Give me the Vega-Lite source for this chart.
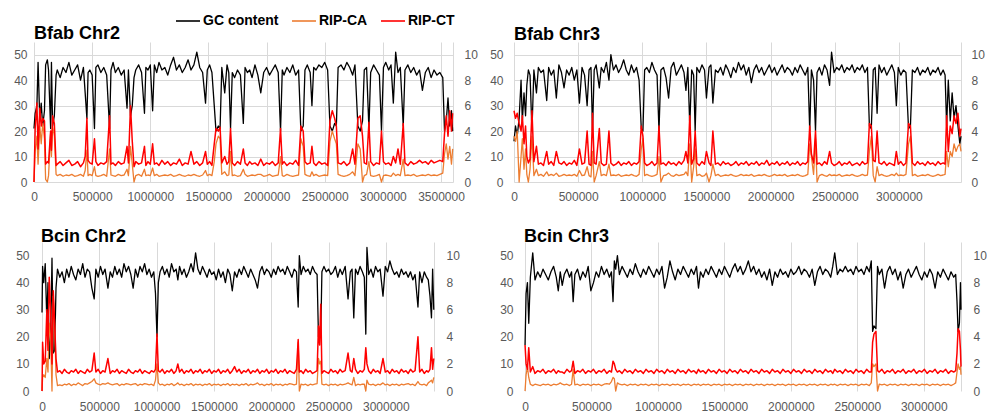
{
"$schema": "https://vega.github.io/schema/vega-lite/v6.json",
"background": "white",
"padding": {"left": 13, "top": 8, "right": 0, "bottom": 0},
"config": {
 "view": {"stroke": null},
 "font": "Liberation Sans",
 "axis": {"labelFont": "Liberation Sans", "labelFontSize": 12, "labelColor": "#595959", "ticks": false, "domain": false, "grid": false, "gridColor": "#d9d9d9", "gridWidth": 1, "domainColor": "#d9d9d9"},
 "title": {"anchor": "start", "frame": "group", "fontSize": 18, "fontWeight": "bold", "color": "#000000", "font": "Liberation Sans"},
 "line": {"strokeJoin": "round"}
},
"datasets": {
"tl": [{"x":0,"g":21,"a":0,"t":0},{"x":10,"g":27,"a":2.4,"t":4.2},{"x":25,"g":30,"a":3.6,"t":6.2},{"x":35,"g":47,"a":1.4,"t":2.6},{"x":50,"g":24,"a":4.4,"t":5.8},{"x":62,"g":31,"a":3,"t":4.4},{"x":75,"g":22,"a":4.6,"t":5},{"x":90,"g":28,"a":3.4,"t":4.8},{"x":100,"g":46,"a":0.2,"t":1.4},{"x":115,"g":48,"a":0,"t":1.6},{"x":125,"g":44,"a":0.5,"t":1.5},{"x":143,"g":21,"a":3.8,"t":4},{"x":150,"g":47,"a":2,"t":2.5},{"x":160,"g":22,"a":4.4,"t":5.2},{"x":175,"g":26,"a":3.6,"t":4.6},{"x":190,"g":42,"a":0.6,"t":1.3},{"x":200,"g":44,"a":0.5,"t":1.4},{"x":225,"g":41,"a":0.6,"t":1.6},{"x":250,"g":45,"a":0.45,"t":1.3},{"x":275,"g":43,"a":0.55,"t":1.5},{"x":300,"g":47,"a":0.5,"t":1.7},{"x":325,"g":42,"a":0.6,"t":1.3},{"x":350,"g":44,"a":0.45,"t":1.4},{"x":375,"g":46,"a":0.5,"t":1.6},{"x":400,"g":40,"a":0.6,"t":1.2},{"x":425,"g":45,"a":0.45,"t":1.5},{"x":440,"g":35,"a":0.9,"t":2},{"x":455,"g":25,"a":2.5,"t":5},{"x":465,"g":43,"a":0.5,"t":1.7},{"x":480,"g":44,"a":0.6,"t":1.5},{"x":500,"g":42,"a":0.5,"t":1.4},{"x":520,"g":21,"a":1.2,"t":3.4},{"x":532,"g":45,"a":0.5,"t":1.6},{"x":550,"g":46,"a":0.45,"t":1.3},{"x":575,"g":43,"a":0.5,"t":1.5},{"x":600,"g":45,"a":0.6,"t":1.4},{"x":625,"g":42,"a":0.45,"t":1.6},{"x":650,"g":21,"a":2.6,"t":5.2},{"x":662,"g":44,"a":0.55,"t":1.4},{"x":680,"g":47,"a":0.5,"t":1.5},{"x":700,"g":43,"a":0.45,"t":1.3},{"x":725,"g":45,"a":0.6,"t":1.6},{"x":750,"g":42,"a":0.5,"t":1.4},{"x":775,"g":44,"a":0.55,"t":1.5},{"x":800,"g":29,"a":1,"t":2.8},{"x":812,"g":44,"a":0.5,"t":1.5},{"x":830,"g":26,"a":2.8,"t":6},{"x":845,"g":30,"a":1.4,"t":3.2},{"x":860,"g":41,"a":0,"t":1.2},{"x":875,"g":44,"a":0.5,"t":1.6},{"x":900,"g":46,"a":0.6,"t":1.4},{"x":925,"g":43,"a":0.45,"t":1.5},{"x":950,"g":27,"a":1,"t":2.8},{"x":962,"g":45,"a":0.5,"t":1.3},{"x":980,"g":44,"a":0.55,"t":1.6},{"x":1000,"g":46,"a":0.5,"t":1.4},{"x":1020,"g":28,"a":1.1,"t":3},{"x":1035,"g":46,"a":0.5,"t":1.4},{"x":1055,"g":43,"a":0.6,"t":1.5},{"x":1075,"g":47,"a":0.45,"t":1.3},{"x":1100,"g":44,"a":0.5,"t":1.7},{"x":1125,"g":45,"a":0.55,"t":1.4},{"x":1150,"g":42,"a":0.5,"t":1.6},{"x":1175,"g":46,"a":0.6,"t":1.3},{"x":1200,"g":49,"a":0.45,"t":1.5},{"x":1225,"g":44,"a":0.5,"t":1.4},{"x":1250,"g":46,"a":0.6,"t":1.8},{"x":1275,"g":43,"a":0.5,"t":1.3},{"x":1300,"g":45,"a":0.45,"t":1.5},{"x":1325,"g":48,"a":0.55,"t":1.4},{"x":1350,"g":44,"a":0.5,"t":2.4},{"x":1375,"g":46,"a":0.6,"t":1.4},{"x":1400,"g":51,"a":0.5,"t":1.6},{"x":1425,"g":45,"a":0.45,"t":1.3},{"x":1450,"g":43,"a":0.55,"t":1.5},{"x":1475,"g":31,"a":0.9,"t":2.4},{"x":1490,"g":44,"a":0.5,"t":1.4},{"x":1510,"g":46,"a":0.6,"t":1.6},{"x":1530,"g":43,"a":0.5,"t":1.3},{"x":1550,"g":30,"a":1.6,"t":3},{"x":1565,"g":20,"a":3,"t":4.2},{"x":1585,"g":22,"a":3.6,"t":4},{"x":1600,"g":21,"a":3.4,"t":4.3},{"x":1615,"g":45,"a":0.6,"t":1.5},{"x":1640,"g":35,"a":0.8,"t":2},{"x":1660,"g":46,"a":0.5,"t":1.4},{"x":1675,"g":43,"a":0.55,"t":1.6},{"x":1690,"g":21,"a":2.4,"t":4.2},{"x":1705,"g":43,"a":0.5,"t":1.5},{"x":1725,"g":41,"a":0.55,"t":1.3},{"x":1750,"g":44,"a":0.45,"t":1.6},{"x":1775,"g":42,"a":0.5,"t":1.4},{"x":1800,"g":23,"a":1,"t":2.6},{"x":1815,"g":45,"a":0.6,"t":1.5},{"x":1835,"g":43,"a":0.45,"t":1.3},{"x":1855,"g":44,"a":0.5,"t":1.6},{"x":1875,"g":41,"a":0.55,"t":1.4},{"x":1900,"g":46,"a":0.5,"t":1.5},{"x":1925,"g":42,"a":0.6,"t":1.3},{"x":1950,"g":35,"a":0.6,"t":1.8},{"x":1975,"g":43,"a":0.45,"t":1.3},{"x":2000,"g":45,"a":0.5,"t":1.5},{"x":2025,"g":42,"a":0.6,"t":1.4},{"x":2050,"g":44,"a":0.45,"t":1.6},{"x":2075,"g":46,"a":0.5,"t":1.3},{"x":2100,"g":43,"a":0.55,"t":1.5},{"x":2120,"g":20,"a":2,"t":4.2},{"x":2135,"g":44,"a":0.5,"t":1.4},{"x":2150,"g":42,"a":0.45,"t":1.6},{"x":2175,"g":45,"a":0.6,"t":1.3},{"x":2200,"g":43,"a":0.5,"t":1.5},{"x":2225,"g":46,"a":0.45,"t":1.4},{"x":2250,"g":42,"a":0.5,"t":1.7},{"x":2275,"g":44,"a":0.55,"t":1.3},{"x":2295,"g":20,"a":3.4,"t":4.4},{"x":2315,"g":22,"a":2.8,"t":4},{"x":2330,"g":44,"a":0.6,"t":1.6},{"x":2350,"g":46,"a":0.5,"t":1.4},{"x":2375,"g":43,"a":0.45,"t":1.5},{"x":2390,"g":30,"a":0.8,"t":2.8},{"x":2405,"g":45,"a":0.5,"t":1.5},{"x":2425,"g":44,"a":0.6,"t":1.3},{"x":2450,"g":46,"a":0.45,"t":1.6},{"x":2475,"g":45,"a":0.5,"t":1.4},{"x":2500,"g":47,"a":0.55,"t":1.5},{"x":2525,"g":44,"a":0.5,"t":1.3},{"x":2545,"g":22,"a":3.2,"t":4.8},{"x":2565,"g":20,"a":4,"t":5.6},{"x":2585,"g":23,"a":3.4,"t":5},{"x":2600,"g":22,"a":3,"t":4.4},{"x":2615,"g":45,"a":0.6,"t":1.5},{"x":2640,"g":46,"a":0.5,"t":1.4},{"x":2665,"g":44,"a":0.45,"t":1.6},{"x":2690,"g":47,"a":0.5,"t":1.3},{"x":2715,"g":45,"a":0.6,"t":1.5},{"x":2740,"g":42,"a":0.8,"t":2.6},{"x":2760,"g":46,"a":0.5,"t":1.4},{"x":2785,"g":22,"a":3,"t":5},{"x":2805,"g":20,"a":2.6,"t":5.2},{"x":2825,"g":24,"a":0,"t":3.6},{"x":2840,"g":44,"a":0.5,"t":1.5},{"x":2860,"g":45,"a":0.6,"t":1.4},{"x":2880,"g":21,"a":1.6,"t":4.7},{"x":2895,"g":43,"a":0.5,"t":1.6},{"x":2920,"g":46,"a":0.45,"t":1.3},{"x":2945,"g":44,"a":0.5,"t":1.5},{"x":2970,"g":42,"a":0.6,"t":1.4},{"x":2988,"g":20,"a":0,"t":4},{"x":3005,"g":45,"a":0.5,"t":1.6},{"x":3025,"g":47,"a":0.55,"t":1.4},{"x":3050,"g":44,"a":0.5,"t":1.5},{"x":3070,"g":46,"a":0.45,"t":1.3},{"x":3090,"g":31,"a":0.7,"t":2},{"x":3110,"g":51,"a":0.5,"t":1.5},{"x":3130,"g":43,"a":0.6,"t":2.6},{"x":3150,"g":45,"a":0.5,"t":1.4},{"x":3175,"g":22,"a":1.8,"t":4.6},{"x":3190,"g":44,"a":0.5,"t":1.5},{"x":3215,"g":46,"a":0.55,"t":1.3},{"x":3240,"g":43,"a":0.5,"t":1.6},{"x":3265,"g":45,"a":0.6,"t":1.4},{"x":3290,"g":42,"a":0.45,"t":1.5},{"x":3315,"g":44,"a":0.5,"t":1.7},{"x":3340,"g":36,"a":0.55,"t":1.5},{"x":3365,"g":43,"a":0.5,"t":1.6},{"x":3390,"g":45,"a":0.6,"t":1.4},{"x":3415,"g":41,"a":0.5,"t":1.7},{"x":3440,"g":44,"a":0.55,"t":1.5},{"x":3465,"g":42,"a":0.5,"t":1.6},{"x":3490,"g":43,"a":0.6,"t":1.7},{"x":3515,"g":41,"a":0.7,"t":1.6},{"x":3530,"g":20,"a":2.2,"t":3.8},{"x":3545,"g":24,"a":3,"t":5.2},{"x":3560,"g":33,"a":1.8,"t":3.6},{"x":3575,"g":22,"a":2.8,"t":5.6},{"x":3590,"g":28,"a":1.4,"t":4},{"x":3600,"g":20,"a":2.6,"t":5.4}],
"tr": [{"x":0,"g":16,"a":3.6,"t":5.6},{"x":12,"g":22,"a":3.2,"t":5},{"x":25,"g":18,"a":4,"t":5.4},{"x":40,"g":25,"a":0,"t":4.6},{"x":55,"g":40,"a":2,"t":4},{"x":65,"g":24,"a":3.4,"t":5.2},{"x":78,"g":35,"a":1,"t":3},{"x":90,"g":26,"a":2.6,"t":4.4},{"x":100,"g":38,"a":0.6,"t":2},{"x":112,"g":44,"a":0,"t":1.5},{"x":125,"g":42,"a":1,"t":1.8},{"x":140,"g":20,"a":3.6,"t":5.6},{"x":155,"g":44,"a":0.5,"t":1.6},{"x":175,"g":35,"a":1,"t":2.8},{"x":190,"g":45,"a":0.5,"t":1.4},{"x":210,"g":43,"a":0.6,"t":1.5},{"x":230,"g":44,"a":0.45,"t":1.3},{"x":255,"g":32,"a":0.8,"t":2.4},{"x":270,"g":45,"a":0.5,"t":1.4},{"x":290,"g":42,"a":0.6,"t":1.6},{"x":310,"g":44,"a":0.5,"t":1.3},{"x":330,"g":33,"a":0.7,"t":2.4},{"x":350,"g":46,"a":0.45,"t":1.5},{"x":370,"g":43,"a":0.5,"t":1.4},{"x":390,"g":37,"a":0.6,"t":1.6},{"x":410,"g":44,"a":0.5,"t":1.3},{"x":430,"g":42,"a":0.55,"t":1.5},{"x":450,"g":45,"a":0.5,"t":1.4},{"x":470,"g":40,"a":0.6,"t":1.7},{"x":490,"g":44,"a":0.45,"t":1.3},{"x":510,"g":31,"a":0.9,"t":2.6},{"x":530,"g":45,"a":0.5,"t":1.4},{"x":550,"g":42,"a":0.55,"t":1.5},{"x":570,"g":30,"a":1.2,"t":4},{"x":585,"g":44,"a":0.5,"t":1.4},{"x":600,"g":45,"a":0.4,"t":1.3},{"x":612,"g":20,"a":2.4,"t":5.4},{"x":625,"g":44,"a":0,"t":1.5},{"x":640,"g":46,"a":0.5,"t":1.4},{"x":665,"g":37,"a":1.6,"t":4.2},{"x":680,"g":45,"a":0.5,"t":1.5},{"x":700,"g":43,"a":0.6,"t":1.3},{"x":720,"g":47,"a":0.5,"t":1.4},{"x":740,"g":40,"a":1.4,"t":4},{"x":755,"g":50,"a":0.5,"t":1.5},{"x":775,"g":44,"a":0.55,"t":1.3},{"x":795,"g":46,"a":0.5,"t":1.4},{"x":815,"g":43,"a":0.6,"t":1.6},{"x":835,"g":45,"a":0.45,"t":1.3},{"x":855,"g":48,"a":0.5,"t":1.5},{"x":875,"g":44,"a":0.55,"t":1.4},{"x":895,"g":42,"a":0.5,"t":1.6},{"x":915,"g":46,"a":0.6,"t":1.3},{"x":935,"g":43,"a":0.5,"t":1.5},{"x":955,"g":45,"a":0.45,"t":1.4},{"x":975,"g":40,"a":0.6,"t":1.6},{"x":992,"g":21,"a":2.6,"t":4.4},{"x":1005,"g":20,"a":3.4,"t":3.6},{"x":1018,"g":44,"a":0.5,"t":1.5},{"x":1035,"g":45,"a":0.6,"t":1.3},{"x":1055,"g":43,"a":0.5,"t":1.4},{"x":1075,"g":47,"a":0.45,"t":1.6},{"x":1095,"g":44,"a":0.5,"t":1.3},{"x":1115,"g":42,"a":0.6,"t":1.5},{"x":1130,"g":20,"a":2,"t":4.4},{"x":1145,"g":44,"a":0,"t":1.4},{"x":1165,"g":45,"a":0.5,"t":1.5},{"x":1185,"g":41,"a":0.55,"t":1.3},{"x":1205,"g":33,"a":0.7,"t":1.6},{"x":1225,"g":45,"a":0.5,"t":1.4},{"x":1245,"g":47,"a":0.45,"t":1.5},{"x":1265,"g":42,"a":0.6,"t":1.3},{"x":1285,"g":44,"a":0.5,"t":1.6},{"x":1305,"g":46,"a":0.55,"t":1.4},{"x":1325,"g":43,"a":0.6,"t":1.7},{"x":1340,"g":36,"a":0.8,"t":2.4},{"x":1355,"g":45,"a":0.5,"t":1.5},{"x":1370,"g":22,"a":3,"t":5.2},{"x":1385,"g":44,"a":0,"t":1.4},{"x":1400,"g":42,"a":1.2,"t":1.8},{"x":1412,"g":20,"a":2.6,"t":4},{"x":1425,"g":45,"a":0.5,"t":1.5},{"x":1445,"g":43,"a":0.6,"t":1.3},{"x":1465,"g":46,"a":0.45,"t":1.6},{"x":1485,"g":44,"a":0.5,"t":1.4},{"x":1500,"g":33,"a":0.7,"t":2.4},{"x":1520,"g":45,"a":0,"t":1.5},{"x":1535,"g":46,"a":0.5,"t":1.3},{"x":1550,"g":31,"a":1.4,"t":4},{"x":1570,"g":44,"a":0.5,"t":1.4},{"x":1590,"g":43,"a":0.6,"t":1.5},{"x":1610,"g":45,"a":0.45,"t":1.3},{"x":1630,"g":42,"a":0.5,"t":1.6},{"x":1650,"g":46,"a":0.55,"t":1.4},{"x":1670,"g":44,"a":0.5,"t":1.5},{"x":1690,"g":41,"a":0.6,"t":1.3},{"x":1710,"g":45,"a":0.5,"t":1.4},{"x":1730,"g":43,"a":0.45,"t":1.6},{"x":1750,"g":47,"a":0.5,"t":1.3},{"x":1770,"g":44,"a":0.6,"t":1.5},{"x":1790,"g":46,"a":0.5,"t":1.4},{"x":1810,"g":42,"a":0.55,"t":1.6},{"x":1830,"g":45,"a":0.5,"t":1.3},{"x":1850,"g":39,"a":0.6,"t":1.5},{"x":1870,"g":44,"a":0.45,"t":1.4},{"x":1890,"g":46,"a":0.5,"t":1.6},{"x":1910,"g":43,"a":0.55,"t":1.3},{"x":1930,"g":45,"a":0.5,"t":1.5},{"x":1950,"g":42,"a":0.6,"t":1.4},{"x":1970,"g":44,"a":0.5,"t":1.7},{"x":1990,"g":46,"a":0.45,"t":1.3},{"x":2010,"g":43,"a":0.5,"t":1.5},{"x":2030,"g":45,"a":0.6,"t":1.4},{"x":2050,"g":42,"a":0.5,"t":1.6},{"x":2070,"g":44,"a":0.55,"t":1.3},{"x":2090,"g":46,"a":0.5,"t":1.5},{"x":2110,"g":43,"a":0.6,"t":1.4},{"x":2130,"g":45,"a":0.45,"t":1.6},{"x":2150,"g":44,"a":0.5,"t":1.3},{"x":2170,"g":42,"a":0.55,"t":1.5},{"x":2190,"g":45,"a":0.5,"t":1.4},{"x":2210,"g":43,"a":0.6,"t":1.6},{"x":2230,"g":46,"a":0.5,"t":1.3},{"x":2250,"g":44,"a":0.45,"t":1.5},{"x":2270,"g":42,"a":0.5,"t":1.4},{"x":2290,"g":45,"a":0.6,"t":1.6},{"x":2305,"g":20,"a":3,"t":4.4},{"x":2318,"g":44,"a":2,"t":2.2},{"x":2335,"g":40,"a":0.6,"t":1.5},{"x":2350,"g":20,"a":3.4,"t":4},{"x":2362,"g":43,"a":0,"t":1.4},{"x":2380,"g":45,"a":0.5,"t":1.5},{"x":2400,"g":42,"a":0.6,"t":1.3},{"x":2420,"g":46,"a":0.5,"t":1.6},{"x":2440,"g":44,"a":0.45,"t":1.4},{"x":2460,"g":38,"a":0.6,"t":2.4},{"x":2475,"g":51,"a":0.5,"t":1.5},{"x":2495,"g":43,"a":0.55,"t":1.3},{"x":2515,"g":45,"a":0.5,"t":1.4},{"x":2535,"g":44,"a":0.6,"t":1.6},{"x":2555,"g":46,"a":0.45,"t":1.3},{"x":2575,"g":43,"a":0.5,"t":1.5},{"x":2595,"g":45,"a":0.55,"t":1.4},{"x":2615,"g":44,"a":0.5,"t":1.6},{"x":2635,"g":46,"a":0.6,"t":1.3},{"x":2655,"g":43,"a":0.5,"t":1.4},{"x":2675,"g":45,"a":0.45,"t":1.5},{"x":2695,"g":44,"a":0.5,"t":1.3},{"x":2715,"g":46,"a":0.6,"t":1.6},{"x":2735,"g":43,"a":0.5,"t":1.4},{"x":2755,"g":45,"a":0.55,"t":1.5},{"x":2770,"g":22,"a":2.4,"t":4.6},{"x":2785,"g":21,"a":3.6,"t":4.4},{"x":2800,"g":44,"a":0.5,"t":1.7},{"x":2815,"g":45,"a":0,"t":1.6},{"x":2830,"g":27,"a":1.2,"t":4},{"x":2845,"g":46,"a":0.5,"t":1.5},{"x":2865,"g":43,"a":0.6,"t":1.4},{"x":2885,"g":45,"a":0.5,"t":1.6},{"x":2905,"g":42,"a":0.45,"t":1.3},{"x":2925,"g":44,"a":0.5,"t":1.5},{"x":2945,"g":46,"a":0.6,"t":1.4},{"x":2965,"g":43,"a":0.5,"t":1.3},{"x":2980,"g":30,"a":0.7,"t":2.4},{"x":2995,"g":45,"a":0.5,"t":1.4},{"x":3015,"g":42,"a":0.55,"t":1.6},{"x":3035,"g":44,"a":0.5,"t":1.3},{"x":3055,"g":43,"a":0.6,"t":1.5},{"x":3075,"g":21,"a":3,"t":4.6},{"x":3090,"g":22,"a":3.6,"t":4.4},{"x":3105,"g":44,"a":0.5,"t":1.5},{"x":3125,"g":43,"a":0.6,"t":1.3},{"x":3145,"g":45,"a":0.45,"t":1.6},{"x":3165,"g":42,"a":0.5,"t":1.4},{"x":3185,"g":44,"a":0.55,"t":1.5},{"x":3205,"g":43,"a":0.5,"t":1.3},{"x":3225,"g":45,"a":0.6,"t":1.6},{"x":3245,"g":42,"a":0.5,"t":1.4},{"x":3265,"g":44,"a":0.45,"t":1.5},{"x":3285,"g":43,"a":0.5,"t":1.3},{"x":3305,"g":45,"a":0.6,"t":1.6},{"x":3325,"g":42,"a":0.5,"t":1.4},{"x":3345,"g":44,"a":0.55,"t":1.5},{"x":3360,"g":42,"a":0.6,"t":1.4},{"x":3372,"g":22,"a":2.4,"t":5.2},{"x":3385,"g":40,"a":1.2,"t":2.4},{"x":3400,"g":24,"a":2.4,"t":4.4},{"x":3415,"g":35,"a":2,"t":3.8},{"x":3430,"g":25,"a":3,"t":5.2},{"x":3445,"g":30,"a":2.4,"t":4.6},{"x":3460,"g":22,"a":2.8,"t":5.4},{"x":3475,"g":15,"a":3,"t":3.6},{"x":3484,"g":18,"a":2.4,"t":4.2}],
"bl": [{"x":0,"g":29,"a":0,"t":0},{"x":5,"g":46,"a":1,"t":3.6},{"x":15,"g":40,"a":1.2,"t":2},{"x":28,"g":47,"a":1,"t":2.2},{"x":42,"g":26,"a":2.4,"t":6},{"x":52,"g":40,"a":1.4,"t":3},{"x":63,"g":12,"a":5,"t":8.4},{"x":75,"g":20,"a":4,"t":6},{"x":87,"g":49,"a":0,"t":2},{"x":98,"g":14,"a":7,"t":7.4},{"x":110,"g":15,"a":5,"t":5},{"x":122,"g":38,"a":1.2,"t":2.4},{"x":135,"g":45,"a":0.4,"t":1.4},{"x":155,"g":42,"a":0.45,"t":1.5},{"x":175,"g":44,"a":0.4,"t":1.3},{"x":195,"g":40,"a":0.5,"t":1.6},{"x":215,"g":45,"a":0.45,"t":1.4},{"x":235,"g":42,"a":0.55,"t":1.3},{"x":255,"g":46,"a":0.4,"t":1.5},{"x":275,"g":43,"a":0.5,"t":1.4},{"x":295,"g":41,"a":0.45,"t":1.6},{"x":315,"g":45,"a":0.6,"t":1.3},{"x":335,"g":43,"a":0.5,"t":1.5},{"x":355,"g":47,"a":0.4,"t":1.4},{"x":375,"g":42,"a":0.55,"t":1.3},{"x":395,"g":45,"a":0.5,"t":1.6},{"x":415,"g":44,"a":0.6,"t":1.4},{"x":435,"g":38,"a":0.7,"t":1.5},{"x":455,"g":34,"a":0.9,"t":2.8},{"x":470,"g":45,"a":0.6,"t":1.4},{"x":490,"g":42,"a":0.5,"t":1.6},{"x":510,"g":46,"a":0.45,"t":1.3},{"x":530,"g":43,"a":0.55,"t":1.5},{"x":550,"g":45,"a":0.5,"t":1.4},{"x":575,"g":38,"a":0.6,"t":2.4},{"x":595,"g":44,"a":0.5,"t":1.3},{"x":615,"g":42,"a":0.45,"t":1.5},{"x":635,"g":46,"a":0.5,"t":1.4},{"x":655,"g":43,"a":0.55,"t":1.6},{"x":675,"g":45,"a":0.4,"t":1.3},{"x":695,"g":42,"a":0.5,"t":1.5},{"x":715,"g":47,"a":0.45,"t":1.4},{"x":735,"g":44,"a":0.55,"t":1.3},{"x":755,"g":46,"a":0.5,"t":1.6},{"x":775,"g":43,"a":0.45,"t":1.4},{"x":795,"g":38,"a":0.5,"t":1.3},{"x":815,"g":45,"a":0.55,"t":1.5},{"x":835,"g":42,"a":0.4,"t":1.4},{"x":855,"g":46,"a":0.5,"t":1.6},{"x":875,"g":44,"a":0.45,"t":1.3},{"x":895,"g":47,"a":0.55,"t":1.5},{"x":915,"g":43,"a":0.5,"t":1.4},{"x":935,"g":45,"a":0.45,"t":1.3},{"x":955,"g":42,"a":0.5,"t":1.5},{"x":975,"g":44,"a":0.4,"t":1.4},{"x":990,"g":36,"a":0.8,"t":1.6},{"x":1003,"g":20,"a":2,"t":4.2},{"x":1015,"g":40,"a":0.6,"t":1.5},{"x":1030,"g":44,"a":0.45,"t":1.4},{"x":1050,"g":46,"a":0.5,"t":1.6},{"x":1070,"g":43,"a":0.4,"t":1.3},{"x":1090,"g":45,"a":0.5,"t":1.5},{"x":1110,"g":42,"a":0.45,"t":1.4},{"x":1130,"g":47,"a":0.55,"t":1.6},{"x":1150,"g":44,"a":0.4,"t":1.3},{"x":1170,"g":45,"a":0.5,"t":1.5},{"x":1185,"g":41,"a":0.6,"t":2},{"x":1200,"g":46,"a":0.45,"t":1.4},{"x":1220,"g":43,"a":0.5,"t":1.6},{"x":1240,"g":45,"a":0.4,"t":1.3},{"x":1260,"g":42,"a":0.5,"t":1.5},{"x":1280,"g":44,"a":0.45,"t":1.4},{"x":1300,"g":47,"a":0.55,"t":1.6},{"x":1320,"g":44,"a":0.4,"t":1.3},{"x":1340,"g":51,"a":0.5,"t":1.5},{"x":1360,"g":45,"a":0.45,"t":1.4},{"x":1380,"g":43,"a":0.5,"t":1.6},{"x":1400,"g":46,"a":0.4,"t":1.3},{"x":1420,"g":44,"a":0.5,"t":1.5},{"x":1440,"g":42,"a":0.45,"t":1.4},{"x":1460,"g":45,"a":0.55,"t":1.6},{"x":1480,"g":43,"a":0.4,"t":1.3},{"x":1500,"g":44,"a":0.5,"t":1.5},{"x":1520,"g":41,"a":0.45,"t":1.4},{"x":1540,"g":45,"a":0.5,"t":1.6},{"x":1560,"g":42,"a":0.4,"t":1.3},{"x":1580,"g":44,"a":0.5,"t":1.5},{"x":1600,"g":40,"a":0.45,"t":1.4},{"x":1620,"g":45,"a":0.55,"t":1.6},{"x":1640,"g":43,"a":0.4,"t":1.3},{"x":1660,"g":37,"a":0.5,"t":1.5},{"x":1680,"g":44,"a":0.45,"t":1.8},{"x":1700,"g":42,"a":0.5,"t":1.4},{"x":1720,"g":45,"a":0.4,"t":1.6},{"x":1740,"g":43,"a":0.5,"t":1.3},{"x":1760,"g":46,"a":0.45,"t":1.5},{"x":1780,"g":44,"a":0.55,"t":1.4},{"x":1800,"g":42,"a":0.4,"t":1.6},{"x":1820,"g":45,"a":0.5,"t":1.3},{"x":1840,"g":43,"a":0.45,"t":1.5},{"x":1860,"g":41,"a":0.5,"t":1.4},{"x":1880,"g":38,"a":0.6,"t":1.6},{"x":1900,"g":44,"a":0.45,"t":1.3},{"x":1920,"g":46,"a":0.5,"t":1.5},{"x":1940,"g":43,"a":0.4,"t":1.4},{"x":1960,"g":45,"a":0.5,"t":1.6},{"x":1980,"g":44,"a":0.45,"t":1.3},{"x":2000,"g":42,"a":0.55,"t":1.5},{"x":2020,"g":45,"a":0.4,"t":1.4},{"x":2040,"g":43,"a":0.5,"t":1.6},{"x":2060,"g":46,"a":0.45,"t":1.3},{"x":2080,"g":44,"a":0.5,"t":1.5},{"x":2100,"g":45,"a":0.4,"t":1.4},{"x":2120,"g":43,"a":0.5,"t":1.6},{"x":2140,"g":46,"a":0.45,"t":1.3},{"x":2160,"g":44,"a":0.55,"t":1.5},{"x":2180,"g":42,"a":0.5,"t":1.4},{"x":2200,"g":45,"a":0.45,"t":1.3},{"x":2220,"g":44,"a":0.5,"t":1.6},{"x":2235,"g":31,"a":3.6,"t":3.8},{"x":2245,"g":50,"a":0,"t":1.4},{"x":2260,"g":43,"a":0.5,"t":1.5},{"x":2280,"g":46,"a":0.45,"t":1.3},{"x":2300,"g":44,"a":0.5,"t":1.6},{"x":2320,"g":45,"a":0.4,"t":1.4},{"x":2340,"g":43,"a":0.5,"t":1.5},{"x":2360,"g":46,"a":0.45,"t":1.3},{"x":2380,"g":44,"a":0.5,"t":1.4},{"x":2400,"g":43,"a":0.55,"t":1.5},{"x":2412,"g":20,"a":2.4,"t":4.8},{"x":2422,"g":23,"a":2,"t":3.4},{"x":2432,"g":21,"a":2.2,"t":6.4},{"x":2442,"g":44,"a":0.5,"t":1.3},{"x":2460,"g":46,"a":0.45,"t":1.5},{"x":2480,"g":44,"a":0.5,"t":1.4},{"x":2500,"g":45,"a":0.4,"t":1.3},{"x":2520,"g":43,"a":0.5,"t":1.6},{"x":2540,"g":44,"a":0.45,"t":1.4},{"x":2560,"g":46,"a":0.5,"t":1.5},{"x":2580,"g":42,"a":0.4,"t":1.3},{"x":2600,"g":45,"a":0.5,"t":1.6},{"x":2620,"g":43,"a":0.45,"t":1.4},{"x":2645,"g":46,"a":0.5,"t":1.5},{"x":2670,"g":34,"a":0.6,"t":2.8},{"x":2690,"g":44,"a":0.5,"t":1.5},{"x":2705,"g":45,"a":0.45,"t":1.4},{"x":2720,"g":27,"a":1,"t":2.4},{"x":2735,"g":45,"a":0.4,"t":1.6},{"x":2755,"g":43,"a":0.5,"t":1.3},{"x":2775,"g":46,"a":0.45,"t":1.5},{"x":2795,"g":44,"a":0.5,"t":1.4},{"x":2812,"g":42,"a":0.5,"t":1.6},{"x":2825,"g":21,"a":0,"t":3.2},{"x":2835,"g":53,"a":0.8,"t":2},{"x":2850,"g":43,"a":0.5,"t":1.5},{"x":2870,"g":45,"a":0.45,"t":1.3},{"x":2890,"g":42,"a":0.5,"t":1.6},{"x":2910,"g":46,"a":0.4,"t":1.4},{"x":2930,"g":44,"a":0.5,"t":1.5},{"x":2950,"g":45,"a":0.45,"t":1.3},{"x":2975,"g":35,"a":0.6,"t":2.4},{"x":2995,"g":46,"a":0.45,"t":1.4},{"x":3015,"g":44,"a":0.5,"t":1.5},{"x":3035,"g":48,"a":0.4,"t":1.3},{"x":3055,"g":45,"a":0.5,"t":1.6},{"x":3075,"g":43,"a":0.45,"t":1.4},{"x":3095,"g":44,"a":0.5,"t":1.5},{"x":3115,"g":42,"a":0.4,"t":1.3},{"x":3135,"g":45,"a":0.5,"t":1.6},{"x":3155,"g":43,"a":0.45,"t":1.4},{"x":3175,"g":44,"a":0.5,"t":1.5},{"x":3195,"g":42,"a":0.55,"t":1.3},{"x":3215,"g":44,"a":0.45,"t":1.6},{"x":3235,"g":41,"a":0.5,"t":1.4},{"x":3255,"g":43,"a":0.4,"t":1.5},{"x":3280,"g":31,"a":0.7,"t":4},{"x":3295,"g":44,"a":0.5,"t":1.4},{"x":3315,"g":40,"a":0.45,"t":1.6},{"x":3335,"g":44,"a":0.5,"t":1.3},{"x":3355,"g":42,"a":0.4,"t":1.5},{"x":3370,"g":41,"a":0.6,"t":1.4},{"x":3385,"g":35,"a":0.7,"t":1.6},{"x":3398,"g":27,"a":0.8,"t":3.2},{"x":3408,"g":45,"a":0.6,"t":1.6},{"x":3418,"g":30,"a":1,"t":2.4}],
"br": [{"x":0,"g":17,"a":0,"t":3.4},{"x":8,"g":36,"a":1.2,"t":2},{"x":18,"g":40,"a":1.8,"t":1.6},{"x":28,"g":25,"a":1,"t":3.2},{"x":40,"g":42,"a":0.5,"t":1.4},{"x":58,"g":51,"a":0.4,"t":1.8},{"x":75,"g":41,"a":0.5,"t":1.3},{"x":95,"g":44,"a":0.45,"t":1.5},{"x":115,"g":42,"a":0.4,"t":1.4},{"x":135,"g":45,"a":0.5,"t":1.6},{"x":155,"g":43,"a":0.45,"t":1.3},{"x":175,"g":41,"a":0.5,"t":1.5},{"x":195,"g":44,"a":0.4,"t":1.4},{"x":215,"g":46,"a":0.5,"t":1.6},{"x":235,"g":42,"a":0.45,"t":1.3},{"x":250,"g":37,"a":0.5,"t":1.5},{"x":265,"g":44,"a":0.6,"t":1.4},{"x":280,"g":39,"a":0.5,"t":1.4},{"x":295,"g":43,"a":0.45,"t":1.3},{"x":315,"g":45,"a":0.5,"t":1.6},{"x":335,"g":42,"a":0.4,"t":1.4},{"x":350,"g":44,"a":0.5,"t":1.5},{"x":362,"g":33,"a":1.6,"t":2.2},{"x":375,"g":43,"a":0.45,"t":1.3},{"x":395,"g":45,"a":0.5,"t":1.5},{"x":415,"g":41,"a":0.4,"t":1.4},{"x":435,"g":44,"a":0.5,"t":1.6},{"x":455,"g":42,"a":0.45,"t":1.3},{"x":475,"g":46,"a":0.5,"t":1.5},{"x":495,"g":37,"a":0.4,"t":1.4},{"x":515,"g":40,"a":0.5,"t":1.6},{"x":535,"g":44,"a":0.45,"t":1.3},{"x":555,"g":42,"a":0.5,"t":1.5},{"x":575,"g":46,"a":0.4,"t":1.4},{"x":595,"g":43,"a":0.5,"t":1.6},{"x":615,"g":45,"a":0.55,"t":1.3},{"x":635,"g":42,"a":0.5,"t":1.5},{"x":650,"g":44,"a":0.7,"t":1.4},{"x":662,"g":33,"a":1,"t":2.2},{"x":672,"g":48,"a":0.9,"t":2},{"x":682,"g":45,"a":0,"t":1.6},{"x":695,"g":50,"a":0.6,"t":1.4},{"x":710,"g":43,"a":0.5,"t":1.5},{"x":730,"g":46,"a":0.45,"t":1.3},{"x":750,"g":44,"a":0.5,"t":1.6},{"x":770,"g":42,"a":0.4,"t":1.4},{"x":790,"g":45,"a":0.5,"t":1.5},{"x":810,"g":43,"a":0.45,"t":1.3},{"x":830,"g":47,"a":0.5,"t":1.6},{"x":850,"g":44,"a":0.4,"t":1.4},{"x":870,"g":42,"a":0.5,"t":1.5},{"x":890,"g":45,"a":0.45,"t":1.3},{"x":910,"g":43,"a":0.5,"t":1.6},{"x":930,"g":46,"a":0.4,"t":1.4},{"x":950,"g":44,"a":0.5,"t":1.5},{"x":970,"g":42,"a":0.45,"t":1.3},{"x":990,"g":45,"a":0.5,"t":1.6},{"x":1010,"g":43,"a":0.4,"t":1.4},{"x":1030,"g":46,"a":0.5,"t":1.5},{"x":1050,"g":38,"a":0.45,"t":1.3},{"x":1070,"g":42,"a":0.5,"t":1.6},{"x":1090,"g":48,"a":0.4,"t":1.4},{"x":1110,"g":44,"a":0.5,"t":1.5},{"x":1130,"g":41,"a":0.45,"t":1.3},{"x":1150,"g":45,"a":0.5,"t":1.6},{"x":1170,"g":43,"a":0.4,"t":1.4},{"x":1190,"g":46,"a":0.5,"t":1.5},{"x":1210,"g":44,"a":0.45,"t":1.3},{"x":1230,"g":42,"a":0.5,"t":1.6},{"x":1250,"g":45,"a":0.4,"t":1.4},{"x":1270,"g":43,"a":0.5,"t":1.5},{"x":1290,"g":46,"a":0.45,"t":1.3},{"x":1305,"g":38,"a":0.5,"t":1.6},{"x":1320,"g":44,"a":0.4,"t":1.4},{"x":1340,"g":42,"a":0.5,"t":1.5},{"x":1360,"g":45,"a":0.45,"t":1.3},{"x":1380,"g":43,"a":0.5,"t":1.6},{"x":1400,"g":46,"a":0.4,"t":1.4},{"x":1420,"g":44,"a":0.5,"t":1.5},{"x":1440,"g":42,"a":0.45,"t":1.3},{"x":1460,"g":45,"a":0.5,"t":1.6},{"x":1480,"g":43,"a":0.4,"t":1.4},{"x":1500,"g":46,"a":0.5,"t":1.5},{"x":1520,"g":44,"a":0.45,"t":1.3},{"x":1540,"g":42,"a":0.5,"t":1.6},{"x":1560,"g":45,"a":0.4,"t":1.4},{"x":1580,"g":47,"a":0.5,"t":1.5},{"x":1600,"g":44,"a":0.45,"t":1.3},{"x":1620,"g":46,"a":0.5,"t":1.6},{"x":1640,"g":43,"a":0.4,"t":1.4},{"x":1660,"g":45,"a":0.5,"t":1.5},{"x":1680,"g":48,"a":0.45,"t":1.3},{"x":1700,"g":44,"a":0.5,"t":1.6},{"x":1720,"g":46,"a":0.4,"t":1.4},{"x":1740,"g":43,"a":0.5,"t":1.5},{"x":1760,"g":45,"a":0.45,"t":1.3},{"x":1780,"g":42,"a":0.5,"t":1.6},{"x":1800,"g":44,"a":0.4,"t":1.4},{"x":1820,"g":41,"a":0.5,"t":1.5},{"x":1840,"g":45,"a":0.45,"t":1.3},{"x":1860,"g":39,"a":0.5,"t":1.6},{"x":1880,"g":44,"a":0.4,"t":1.4},{"x":1900,"g":42,"a":0.5,"t":1.5},{"x":1920,"g":45,"a":0.45,"t":1.3},{"x":1940,"g":43,"a":0.5,"t":1.6},{"x":1960,"g":44,"a":0.4,"t":1.4},{"x":1980,"g":42,"a":0.5,"t":1.5},{"x":2000,"g":45,"a":0.45,"t":1.3},{"x":2020,"g":43,"a":0.5,"t":1.6},{"x":2040,"g":44,"a":0.4,"t":1.4},{"x":2060,"g":46,"a":0.5,"t":1.5},{"x":2080,"g":43,"a":0.45,"t":1.3},{"x":2100,"g":45,"a":0.5,"t":1.6},{"x":2120,"g":44,"a":0.4,"t":1.4},{"x":2140,"g":42,"a":0.5,"t":1.5},{"x":2160,"g":45,"a":0.45,"t":1.3},{"x":2180,"g":39,"a":0.5,"t":1.6},{"x":2200,"g":44,"a":0.4,"t":1.4},{"x":2220,"g":46,"a":0.5,"t":1.5},{"x":2240,"g":43,"a":0.45,"t":1.3},{"x":2260,"g":45,"a":0.5,"t":1.6},{"x":2280,"g":44,"a":0.4,"t":1.4},{"x":2300,"g":42,"a":0.5,"t":1.5},{"x":2315,"g":46,"a":0.45,"t":1.3},{"x":2330,"g":51,"a":0.5,"t":1.6},{"x":2350,"g":43,"a":0.4,"t":1.4},{"x":2370,"g":45,"a":0.5,"t":1.5},{"x":2390,"g":44,"a":0.45,"t":1.3},{"x":2410,"g":46,"a":0.5,"t":1.6},{"x":2430,"g":44,"a":0.4,"t":1.4},{"x":2450,"g":45,"a":0.5,"t":1.5},{"x":2470,"g":43,"a":0.45,"t":1.3},{"x":2490,"g":46,"a":0.5,"t":1.6},{"x":2510,"g":44,"a":0.4,"t":1.4},{"x":2530,"g":45,"a":0.5,"t":1.5},{"x":2550,"g":43,"a":0.45,"t":1.3},{"x":2570,"g":46,"a":0.5,"t":1.6},{"x":2590,"g":44,"a":0.4,"t":1.4},{"x":2605,"g":48,"a":0.6,"t":1.4},{"x":2615,"g":22,"a":2,"t":3.6},{"x":2625,"g":24,"a":1.8,"t":4.2},{"x":2640,"g":23,"a":2,"t":4.4},{"x":2652,"g":46,"a":0,"t":1.5},{"x":2665,"g":43,"a":0.5,"t":1.4},{"x":2685,"g":45,"a":0.45,"t":1.6},{"x":2705,"g":38,"a":0.5,"t":1.3},{"x":2725,"g":44,"a":0.4,"t":1.5},{"x":2745,"g":46,"a":0.5,"t":1.4},{"x":2765,"g":43,"a":0.45,"t":1.6},{"x":2785,"g":45,"a":0.5,"t":1.3},{"x":2805,"g":41,"a":0.4,"t":1.5},{"x":2825,"g":44,"a":0.5,"t":1.4},{"x":2845,"g":38,"a":0.45,"t":1.6},{"x":2865,"g":43,"a":0.5,"t":1.3},{"x":2885,"g":45,"a":0.4,"t":1.5},{"x":2905,"g":42,"a":0.5,"t":1.4},{"x":2925,"g":44,"a":0.45,"t":1.6},{"x":2945,"g":46,"a":0.5,"t":1.3},{"x":2965,"g":43,"a":0.4,"t":1.5},{"x":2985,"g":41,"a":0.5,"t":1.4},{"x":3005,"g":44,"a":0.45,"t":1.6},{"x":3025,"g":42,"a":0.5,"t":1.3},{"x":3045,"g":45,"a":0.4,"t":1.5},{"x":3065,"g":43,"a":0.5,"t":1.4},{"x":3085,"g":38,"a":0.45,"t":1.6},{"x":3105,"g":44,"a":0.5,"t":1.3},{"x":3125,"g":42,"a":0.4,"t":1.5},{"x":3145,"g":45,"a":0.5,"t":1.4},{"x":3165,"g":43,"a":0.45,"t":1.6},{"x":3185,"g":41,"a":0.5,"t":1.3},{"x":3205,"g":44,"a":0.4,"t":1.5},{"x":3225,"g":42,"a":0.5,"t":1.4},{"x":3240,"g":43,"a":0.6,"t":1.5},{"x":3250,"g":33,"a":1.4,"t":2.8},{"x":3258,"g":22,"a":2,"t":4.6},{"x":3268,"g":25,"a":1.6,"t":4.4},{"x":3276,"g":40,"a":1.8,"t":3},{"x":3280,"g":30,"a":1.2,"t":1.8}],
"grid": [{"v":0},{"v":10},{"v":20},{"v":30},{"v":40},{"v":50}]
},
"columns": 2,
"spacing": {"row": 60, "column": 61},
"bounds": "flush",
"concat": [
 {"width": 419, "height": 140, "data": {"name": "tl"},
  "title": {"text": "Bfab Chr2", "offset": -1},
  "encoding": {"x": {"field": "x", "type": "quantitative", "scale": {"domain": [0, 3603], "nice": false, "zero": false}, "axis": {"title": null, "values": [0,500,1000,1500,2000,2500,3000,3500], "labelExpr": "format(datum.value*1000,'d')", "grid": true, "labelFlush": false, "labelOverlap": false, "labelPadding": 9}}},
  "layer": [
   {"mark": {"type": "line", "strokeWidth": 1.3}, "encoding": {"y": {"field": "g", "type": "quantitative", "scale": {"domain": [0, 55], "nice": false}, "axis": {"title": null, "orient": "left", "values": [0,10,20,30,40,50], "grid": true, "labelPadding": 7}},
     "color": {"datum": "GC content", "scale": {"domain": ["GC content", "RIP-CA", "RIP-CT"], "range": ["#000000", "#ED7D31", "#FF0000"]},
       "legend": {"orient": "none", "legendX": 141, "legendY": -34, "direction": "horizontal", "title": null, "symbolType": "stroke", "symbolSize": 576, "symbolStrokeWidth": 1.6, "labelFontSize": 14, "labelFontWeight": "bold", "labelColor": "#000000", "labelFont": "Liberation Sans", "labelOffset": 2, "columnPadding": 12, "padding": 0}}}},
   {"mark": {"type": "line", "strokeWidth": 1.3}, "encoding": {"y": {"field": "a", "type": "quantitative", "scale": {"domain": [0, 11], "nice": false}, "axis": {"title": null, "orient": "right", "values": [0,2,4,6,8,10], "grid": false, "domain": true, "labelPadding": 11}}, "color": {"datum": "RIP-CA"}}},
   {"mark": {"type": "line", "strokeWidth": 1.5}, "encoding": {"y": {"field": "t", "type": "quantitative", "scale": {"domain": [0, 11], "nice": false}, "axis": null}, "color": {"datum": "RIP-CT"}}}
  ],
  "resolve": {"scale": {"y": "independent"}}
 },
 {"width": 447, "height": 140, "data": {"name": "tr"},
  "title": {"text": "Bfab Chr3", "offset": -2},
  "encoding": {"x": {"field": "x", "type": "quantitative", "scale": {"domain": [0, 3484], "nice": false, "zero": false}, "axis": {"title": null, "values": [0,500,1000,1500,2000,2500,3000], "labelExpr": "format(datum.value*1000,'d')", "grid": true, "labelFlush": false, "labelOverlap": false, "labelPadding": 9}}},
  "layer": [
   {"mark": {"type": "line", "strokeWidth": 1.3}, "encoding": {"y": {"field": "g", "type": "quantitative", "scale": {"domain": [0, 55], "nice": false}, "axis": {"title": null, "orient": "left", "values": [0,10,20,30,40,50], "grid": true, "labelPadding": 11}}, "color": {"datum": "GC content"}}},
   {"mark": {"type": "line", "strokeWidth": 1.3}, "encoding": {"y": {"field": "a", "type": "quantitative", "scale": {"domain": [0, 11], "nice": false}, "axis": {"title": null, "orient": "right", "values": [0,2,4,6,8,10], "grid": false, "domain": true, "labelPadding": 10}}, "color": {"datum": "RIP-CA"}}},
   {"mark": {"type": "line", "strokeWidth": 1.5}, "encoding": {"y": {"field": "t", "type": "quantitative", "scale": {"domain": [0, 11], "nice": false}, "axis": null}, "color": {"datum": "RIP-CT"}}}
  ],
  "resolve": {"scale": {"y": "independent"}}
 },
 {"width": 400, "height": 149, "data": {"name": "bl"},
  "title": {"text": "Bcin Chr2", "offset": -4, "dx": 7},
  "encoding": {"x": {"field": "x", "type": "quantitative", "scale": {"domain": [-70, 3420], "nice": false, "zero": false}, "axis": {"title": null, "values": [0,500,1000,1500,2000,2500,3000], "labelExpr": "format(datum.value*1000,'d')", "grid": true, "labelFlush": false, "labelOverlap": false, "labelPadding": 10}}},
  "layer": [
   {"layer": [
     {"data": {"name": "grid"}, "mark": {"type": "rule", "color": "#d9d9d9", "strokeWidth": 1}, "encoding": {"y": {"field": "v", "type": "quantitative", "scale": {"domain": [0, 55], "nice": false}, "axis": {"title": null, "orient": "left", "values": [0,10,20,30,40,50], "grid": false, "labelPadding": 5}}, "x": {"datum": 0}, "x2": {"datum": 3420}}},
     {"mark": {"type": "line", "strokeWidth": 1.3}, "encoding": {"y": {"field": "g", "type": "quantitative", "scale": {"domain": [0, 55], "nice": false}, "axis": {"title": null, "orient": "left", "values": [0,10,20,30,40,50], "grid": false, "labelPadding": 5}}, "color": {"datum": "GC content"}}}
   ]},
   {"mark": {"type": "line", "strokeWidth": 1.3}, "encoding": {"y": {"field": "a", "type": "quantitative", "scale": {"domain": [0, 11], "nice": false}, "axis": {"title": null, "orient": "right", "values": [0,2,4,6,8,10], "grid": false, "domain": true, "labelPadding": 12}}, "color": {"datum": "RIP-CA"}}},
   {"mark": {"type": "line", "strokeWidth": 1.5}, "encoding": {"y": {"field": "t", "type": "quantitative", "scale": {"domain": [0, 11], "nice": false}, "axis": null}, "color": {"datum": "RIP-CT"}}}
  ],
  "resolve": {"scale": {"y": "independent"}}
 },
 {"width": 447, "height": 149, "data": {"name": "br"},
  "title": {"text": "Bcin Chr3", "offset": -4, "dx": 10},
  "encoding": {"x": {"field": "x", "type": "quantitative", "scale": {"domain": [-83, 3280], "nice": false, "zero": false}, "axis": {"title": null, "values": [0,500,1000,1500,2000,2500,3000], "labelExpr": "format(datum.value*1000,'d')", "grid": true, "labelFlush": false, "labelOverlap": false, "labelPadding": 10}}},
  "layer": [
   {"layer": [
     {"data": {"name": "grid"}, "mark": {"type": "rule", "color": "#d9d9d9", "strokeWidth": 1}, "encoding": {"y": {"field": "v", "type": "quantitative", "scale": {"domain": [0, 55], "nice": false}, "axis": {"title": null, "orient": "left", "values": [0,10,20,30,40,50], "grid": false, "labelPadding": 1}}, "x": {"datum": 0}, "x2": {"datum": 3280}}},
     {"mark": {"type": "line", "strokeWidth": 1.3}, "encoding": {"y": {"field": "g", "type": "quantitative", "scale": {"domain": [0, 55], "nice": false}, "axis": {"title": null, "orient": "left", "values": [0,10,20,30,40,50], "grid": false, "labelPadding": 1}}, "color": {"datum": "GC content"}}}
   ]},
   {"mark": {"type": "line", "strokeWidth": 1.3}, "encoding": {"y": {"field": "a", "type": "quantitative", "scale": {"domain": [0, 11], "nice": false}, "axis": {"title": null, "orient": "right", "values": [0,2,4,6,8,10], "grid": false, "domain": true, "labelPadding": 12}}, "color": {"datum": "RIP-CA"}}},
   {"mark": {"type": "line", "strokeWidth": 1.5}, "encoding": {"y": {"field": "t", "type": "quantitative", "scale": {"domain": [0, 11], "nice": false}, "axis": null}, "color": {"datum": "RIP-CT"}}}
  ],
  "resolve": {"scale": {"y": "independent"}}
 }
]
}
